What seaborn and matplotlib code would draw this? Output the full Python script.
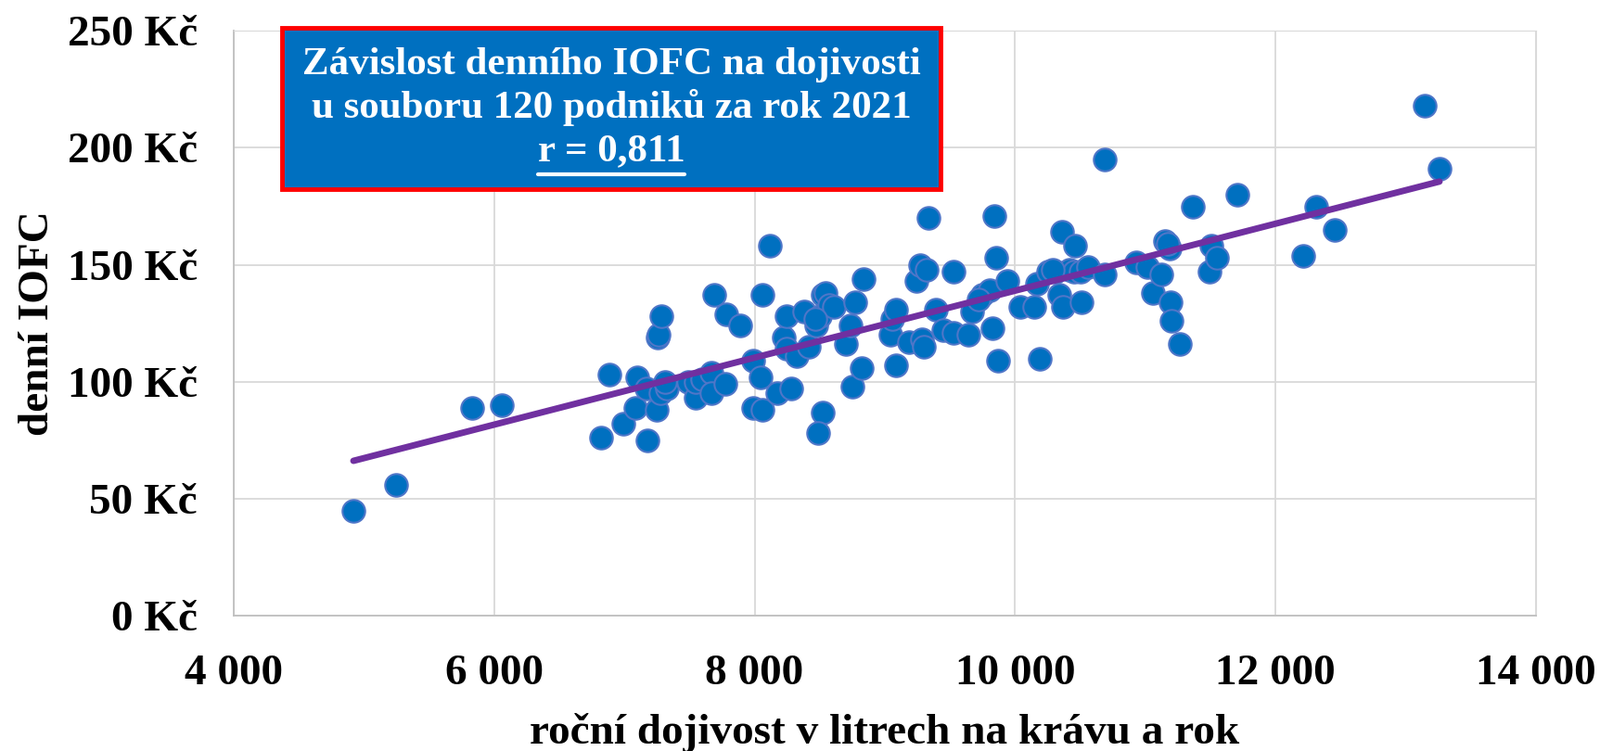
import numpy as np
import pandas as pd
import seaborn as sns
import matplotlib.pyplot as plt
from matplotlib.ticker import FuncFormatter, MultipleLocator
from matplotlib.patches import Rectangle
from matplotlib.lines import Line2D

# roční dojivost (l/kráva/rok) a denní IOFC (Kč)
dojivost = [4920, 5250, 5830, 6060, 6820, 6885, 6990, 7085, 7098, 7178,
            7168, 7255, 7262, 7286, 7252, 7276, 7330, 7314, 7490, 7548,
            7550, 7598, 7672, 7672, 7778, 7690, 7780, 7893, 7988, 7990,
            8060, 8043, 8063, 8120, 8171, 8282, 8226, 8249, 8321, 8249,
            8380, 8416, 8475, 8499, 8523, 8546, 8570, 8606, 8523, 8487,
            8750, 8701, 8772, 8740, 8820, 8838, 9045, 9057, 9086, 9083,
            9188, 9283, 9300, 9242, 9271, 9320, 9333, 9390, 9449, 9525,
            9525, 9642, 9670, 9746, 9805, 9829, 9841, 9867, 9857, 9943,
            10043, 10150, 10190, 10170, 10257, 10310, 10340, 10365, 10360, 10420,
            10458, 10450, 10506, 10508, 10561, 10691, 10686, 10930, 11017, 11062,
            11120, 11153, 11190, 11192, 11200, 11268, 11365, 11490, 11510, 11548,
            11708, 12209, 12309, 12454, 13143, 13259, 11170, 10290, 8463, 9720]
iofc = [45, 56, 89, 90, 76, 103, 82, 89, 102, 75,
        97, 119, 120, 128, 88, 95, 97, 100, 100, 93,
        100, 101, 104, 95, 99, 137, 129, 124, 109, 89,
        88, 102, 137, 158, 95, 97, 119, 114, 111, 128,
        130, 115, 124, 128, 137, 138, 133, 132, 87, 78,
        98, 116, 134, 124, 106, 144, 120, 127, 131, 107,
        117, 118, 115, 143, 150, 148, 170, 131, 122, 121,
        147, 120, 130, 137, 139, 123, 171, 109, 153, 143,
        132, 132, 110, 142, 147, 147, 137, 132, 164, 148,
        158, 147, 147, 134, 149, 195, 146, 151, 149, 138,
        146, 160, 157, 134, 126, 116, 175, 147, 158, 153,
        180, 154, 175, 165, 218, 191, 159, 148, 127, 135]

title_lines = ["Závislost denního IOFC na dojivosti",
               "u souboru 120 podniků za rok 2021",
               "r = 0,811"]

df = pd.DataFrame({"dojivost": dojivost, "iofc": iofc})

sns.set_style("white")
plt.rcParams['font.family'] = ['Liberation Serif', 'DejaVu Serif']
plt.rcParams['font.weight'] = 'bold'
plt.rcParams['text.color'] = 'black'
plt.rcParams['axes.labelcolor'] = 'black'
plt.rcParams['xtick.color'] = 'black'
plt.rcParams['ytick.color'] = 'black'

fig = plt.figure(figsize=(17.25, 8.1), dpi=100)
ax = fig.add_axes([0.146, 0.180, 0.814, 0.779])

sns.scatterplot(data=df, x="dojivost", y="iofc", ax=ax, s=310,
                color="#0070C0", edgecolor="#4F76C8", linewidth=1.5, zorder=3)
sns.regplot(data=df, x="dojivost", y="iofc", ax=ax, scatter=False, ci=None,
            line_kws={"color": "#7030A0", "linewidth": 5,
                      "solid_capstyle": "round", "zorder": 4})

ax.set_xlim(4000, 14000)
ax.set_ylim(0, 250)
ax.xaxis.set_major_locator(MultipleLocator(2000))
ax.yaxis.set_major_locator(MultipleLocator(50))
ax.xaxis.set_major_formatter(FuncFormatter(lambda v, p: f"{int(v):,}".replace(",", " ")))
ax.yaxis.set_major_formatter(FuncFormatter(lambda v, p: f"{int(v)} Kč"))
ax.grid(True, color="#D9D9D9", linewidth=1.3)
ax.set_axisbelow(True)
for side in ["top", "right"]:
    ax.spines[side].set_color("#D9D9D9")
for side in ["left", "bottom"]:
    ax.spines[side].set_color("#BFBFBF")
    ax.spines[side].set_linewidth(1.3)
ax.tick_params(axis="both", length=0, labelsize=34)
ax.tick_params(axis="x", pad=30)
ax.tick_params(axis="y", pad=28)
for lab in ax.get_xticklabels() + ax.get_yticklabels():
    lab.set_fontweight("bold")

ax.set_xlabel("roční dojivost v litrech na krávu a rok", fontsize=34,
              fontweight="bold", labelpad=15)
ax.set_ylabel("denní IOFC", fontsize=34, fontweight="bold", labelpad=8)

# titulek v modrém rámečku
box = Rectangle((0.176, 0.748), 0.412, 0.215, transform=fig.transFigure,
                facecolor="#0070C0", edgecolor="#FF0000", linewidth=3.5, zorder=10)
fig.patches.append(box)
for ty, txt in zip([0.914, 0.857], title_lines[:2]):
    fig.text(0.382, ty, txt, ha="center", va="center", color="white",
             fontsize=31, fontweight="bold", zorder=11)
rt = fig.text(0.382, 0.799, title_lines[2], ha="center", va="center", color="white",
              fontsize=31, fontweight="bold", zorder=11)
fig.canvas.draw()
bb = rt.get_window_extent().transformed(fig.transFigure.inverted())
fig.add_artist(Line2D([bb.x0, bb.x1], [0.768, 0.768], transform=fig.transFigure,
                      color="white", linewidth=3, zorder=11))

fig.savefig("out.png", dpi=100)
